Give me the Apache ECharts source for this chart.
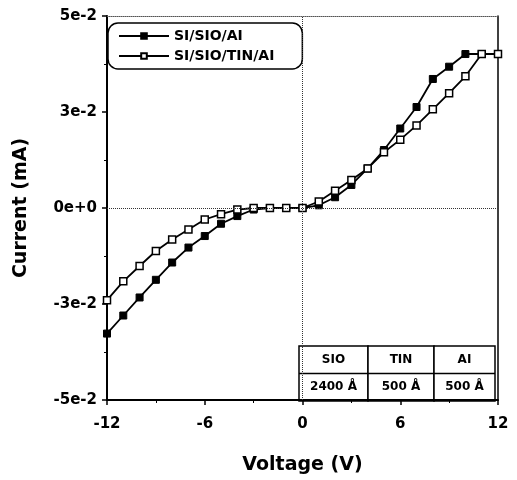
<!DOCTYPE html>
<html>
<head>
<meta charset="utf-8">
<script src="https://cdn.jsdelivr.net/npm/echarts@6/dist/echarts.min.js"></script>
<style>
  html, body { margin: 0; padding: 0; background: #fff; }
  #chart { width: 517px; height: 480px; }
</style>
</head>
<body>
<div id="chart"></div>
<script>
// I-V data
const voltage = [-12, -11, -10, -9, -8, -7, -6, -5, -4, -3, -2, -1, 0, 1, 2, 3, 4, 5, 6, 7, 8, 9, 10, 11, 12];
const currentAl = [-0.0327, -0.0280, -0.0233, -0.0187, -0.0142, -0.0103, -0.0073, -0.0041, -0.0021, -0.0004, 0, 0, 0,
  0.0007, 0.0028, 0.0060, 0.0103, 0.0151, 0.0207, 0.0263, 0.0336, 0.0368, 0.0401, 0.0401, 0.0401];
const currentTiN = [-0.0240, -0.0191, -0.0151, -0.0112, -0.0082, -0.0056, -0.0030, -0.0016, -0.0004, 0, 0, 0, 0,
  0.0017, 0.0045, 0.0073, 0.0103, 0.0145, 0.0178, 0.0215, 0.0257, 0.0299, 0.0343, 0.0401, 0.0401];
const seriesNames = ['SI/SIO/AI', 'SI/SIO/TIN/AI'];

// layer thickness table
const tableHeader = ['SIO', 'TIN', 'AI'];
const tableValues = ['2400 Å', '500 Å', '500 Å'];

const FONT = '"DejaVu Sans", sans-serif';

function pairs(ys) {
    return voltage.map((x, i) => [x, ys[i]]);
}

// 表格 (graphic)
function buildTable() {
    const left = 299, top = 346, rowH = 27.5;
    const colW = [69, 66, 61];
    const items = [];
    let x = left;
    colW.forEach((w, i) => {
        items.push({
            type: 'rect', shape: { x: x, y: top, width: w, height: rowH * 2 },
            style: { fill: '#fff', stroke: '#000', lineWidth: 1.5 }
        });
        items.push({
            type: 'text', x: x + w / 2, y: top + rowH / 2,
            style: { text: tableHeader[i], font: 'bold 12px ' + FONT, fill: '#000', align: 'center', verticalAlign: 'middle' }
        });
        items.push({
            type: 'text', x: x + w / 2, y: top + rowH * 1.5,
            style: { text: tableValues[i], font: 'bold 12px ' + FONT, fill: '#000', align: 'center', verticalAlign: 'middle' }
        });
        x += w;
    });
    items.push({
        type: 'line', shape: { x1: left, y1: top + rowH, x2: x, y2: top + rowH },
        style: { stroke: '#000', lineWidth: 1.5 }
    });
    return items;
}

const chart = echarts.init(document.getElementById('chart'));

chart.setOption({
    animation: false,
    backgroundColor: '#fff',
    grid: { left: 107, right: 19, top: 16, bottom: 77 },
    legend: {
        left: 108, top: 23,
        orient: 'vertical',
        itemWidth: 50, itemHeight: 7, itemGap: 6,
        padding: [6, 28, 6, 10],
        borderColor: '#000', borderWidth: 1.5, borderRadius: 10,
        backgroundColor: '#fff',
        textStyle: { fontFamily: FONT, fontWeight: 'bold', fontSize: 14, color: '#000' },
        data: seriesNames
    },
    xAxis: [{
        type: 'value', min: -12, max: 12, interval: 6,
        name: 'Voltage (V)', nameLocation: 'middle', nameGap: 56,
        nameTextStyle: { fontFamily: FONT, fontWeight: 'bold', fontSize: 19, color: '#000' },
        axisLine: { onZero: false, lineStyle: { color: '#000', width: 2 } },
        axisTick: { length: 5, lineStyle: { color: '#000', width: 1.5 } },
        minorTick: { show: true, splitNumber: 2, length: 3, lineStyle: { color: '#000' } },
        splitLine: { show: false },
        axisLabel: { margin: 17, fontFamily: FONT, fontWeight: 'bold', fontSize: 15, color: '#000' }
    }, {
        type: 'value', min: -12, max: 12, position: 'top',
        axisLine: { show: true, onZero: false, lineStyle: { color: '#555', width: 1, type: 'dotted' } },
        axisTick: { show: false }, axisLabel: { show: false }, splitLine: { show: false }
    }],
    yAxis: [{
        type: 'value', min: -0.05, max: 0.05, interval: 0.025,
        name: 'Current (mA)', nameLocation: 'middle', nameGap: 76,
        nameTextStyle: { fontFamily: FONT, fontWeight: 'bold', fontSize: 19, color: '#000' },
        axisLine: { show: true, onZero: false, lineStyle: { color: '#000', width: 2 } },
        axisTick: { show: true, length: 5, lineStyle: { color: '#000', width: 1.5 } },
        minorTick: { show: true, splitNumber: 2, length: 3, lineStyle: { color: '#000' } },
        splitLine: { show: false },
        axisLabel: {
            margin: 10, fontFamily: FONT, fontWeight: 'bold', fontSize: 15, color: '#000',
            formatter: v => (Math.round(v * 1000) / 1000).toExponential(0)
        }
    }, {
        type: 'value', min: -0.05, max: 0.05, position: 'right',
        axisLine: { show: true, onZero: false, lineStyle: { color: '#000', width: 1.5 } },
        axisTick: { show: false }, axisLabel: { show: false }, splitLine: { show: false }
    }],
    series: [{
        name: seriesNames[0],
        type: 'line',
        data: pairs(currentAl),
        symbol: 'rect', symbolSize: 7,
        itemStyle: { color: '#000', borderColor: '#000', borderWidth: 1 },
        lineStyle: { color: '#000', width: 1.8 },
        z: 3,
        markLine: {
            silent: true, symbol: 'none', label: { show: false },
            lineStyle: { color: '#333', width: 1, type: 'dotted' },
            data: [{ xAxis: 0 }, { yAxis: 0 }]
        }
    }, {
        name: seriesNames[1],
        type: 'line',
        data: pairs(currentTiN),
        symbol: 'rect', symbolSize: 7,
        itemStyle: { color: '#fff', borderColor: '#000', borderWidth: 1.5 },
        lineStyle: { color: '#000', width: 1.8 },
        z: 4
    }],
    graphic: buildTable()
});
</script>
</body>
</html>
